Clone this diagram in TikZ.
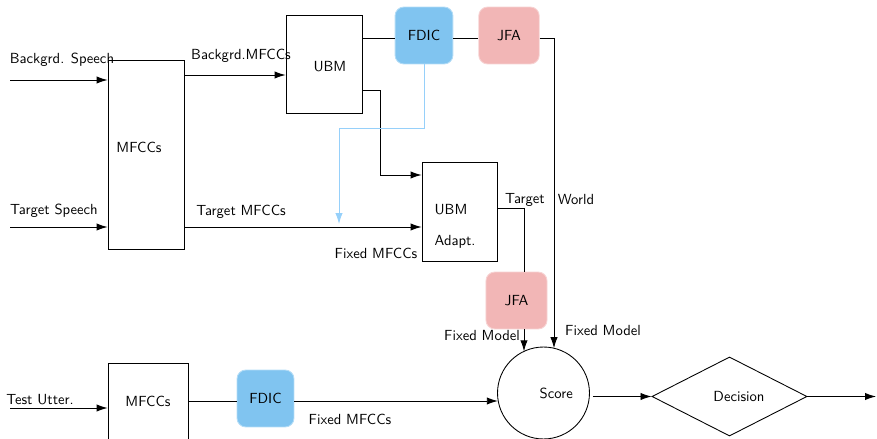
\documentclass[tikz,border=0pt]{standalone}
\usepackage{tikz}
\usetikzlibrary{arrows.meta,shapes.geometric}
\definecolor{fdicblue}{RGB}{128,196,240}
\definecolor{jfapink}{RGB}{242,182,182}
\definecolor{linkblue}{RGB}{150,208,250}

\begin{document}
\begin{tikzpicture}[x=0.24mm,y=-0.24mm,font=\sffamily,line width=0.6pt,
  >={Latex[length=7.5pt,width=5pt]},
  block/.style={draw,inner sep=0pt,minimum width=51.9pt},
  fdicbox/.style={fill=fdicblue,draw=fdicblue!60!white,rounded corners=6pt,
    inner sep=0pt,minimum width=39.5pt,minimum height=38.9pt},
  jfabox/.style={fill=jfapink,draw=jfapink!60!white,rounded corners=6pt,
    inner sep=0pt,minimum width=41.3pt,minimum height=38.9pt}]
  \useasboundingbox (0,0) rectangle (877,439);

  % enrolment side
  \node[block,minimum height=129.1pt,
    label={[xshift=-4.8pt,yshift=5pt]center:MFCCs}] (mfccA) at (146,154.5) {};
  \node[block,minimum height=66.9pt,
    label={[xshift=4pt,yshift=-2pt]center:UBM}] (ubm) at (324,64) {};
  \node[fdicbox] (fdicA) at (424,35.5) {FDIC};
  \node[jfabox] (jfaA) at (509,35.5) {JFA};
  \node[block,minimum width=51.2pt,minimum height=67.6pt,
    label={[align=left,xshift=-3pt,yshift=-10pt]center:UBM\\[9pt]Adapt.}] (adapt)
    at (459.5,211.5) {};
  \node[jfabox,minimum width=41.7pt] (jfaB) at (516.5,300.5) {JFA};

  % test side
  \node[block,minimum width=54.6pt,minimum height=51.9pt] (mfccB) at (148,401) {MFCCs};
  \node[fdicbox,minimum width=38.9pt] (fdicB) at (265.5,398.5) {FDIC};
  \node[circle,draw,inner sep=0pt,minimum size=62.8pt,
    label={[xshift=8.7pt]center:Score}] (score) at (543.5,393) {};
  \node[diamond,draw,inner sep=0pt,minimum width=105.9pt,minimum height=54pt,
    label={[xshift=6.5pt]center:Decision}] (decision) at (729.5,396.5) {};

  \coordinate (inA) at (10,80);
  \coordinate (inB) at (10,227);
  \coordinate (inC) at (10,408);
  \coordinate (out) at (876,396.5);

  % connectors
  \draw[->] (inA) -- (inA -| mfccA.west);
  \draw[->] (mfccA.east |- 0,75) -- (ubm.west |- 0,75);
  \draw (ubm.east |- 0,38) -- (fdicA.west |- 0,38);
  \draw (fdicA.east |- 0,38) -- (jfaA.west |- 0,38);
  \draw[->] (jfaA.east |- 0,38) -| (554,348.2);
  \draw[->] (ubm.east |- 0,90) -- (380,90) |- (adapt.west |- 0,175);
  \draw[->] (inB) -- (inB -| mfccA.west);
  \draw[->] (mfccA.east |- inB) -- (adapt.west |- inB);
  \draw[linkblue,->] (fdicA.south) |- (339,128) -- (339,224);
  \draw (adapt.east |- 0,208) -| (jfaB.north -| 524,0);
  \draw[->] (jfaB.south -| 524,0) -- (524,351.3);
  \draw[->] (inC) -- (inC -| mfccB.west);
  \draw (mfccB.east |- 0,401) -- (fdicB.west |- 0,401);
  \draw[->] (fdicB.east |- 0,401) -- (497.8,401);
  \draw[->] ([xshift=2pt]score.east |- decision.west) -- (decision.west);
  \draw[->] (decision.east) -- (out);

  % labels
  \node (lbgsp) at (62,60) {Backgrd. Speech};
  \node (ltgsp) at (54,211) {Target Speech};
  \node (lbgmf) at (241,56) {Backgrd.MFCCs};
  \node (ltgmf) at (241,212) {Target MFCCs};
  \node (lfxmfA) at (376,253) {Fixed MFCCs};
  \node (ltarget) at (525,200) {Target};
  \node (lworld) at (576,200) {World};
  \node (lfxmdA) at (482,336) {Fixed Model};
  \node (lfxmdB) at (603,331) {Fixed Model};
  \node (ltest) at (40,400) {Test Utter.};
  \node (lfxmfB) at (350,419) {Fixed MFCCs};
\end{tikzpicture}
\end{document}
